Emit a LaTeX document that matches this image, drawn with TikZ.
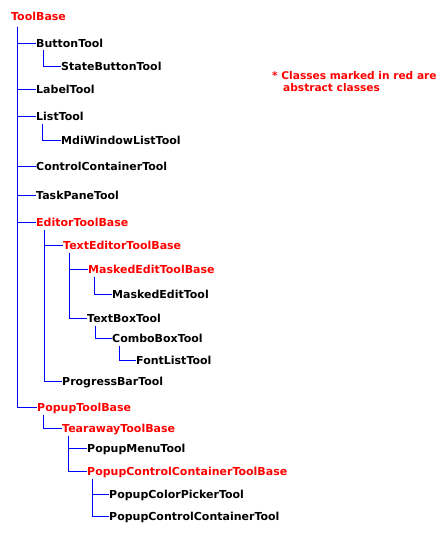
\documentclass[tikz,border=0pt]{standalone}
\usepackage{fontspec}
\setmainfont{DejaVu Sans}
\definecolor{absred}{RGB}{255,0,0}
\definecolor{linkblue}{RGB}{0,0,255}
\tikzset{
  cls/.style={anchor=west, inner sep=0pt, font=\bfseries\fontsize{11}{13}\selectfont, text height=8pt, text depth=0pt, text=black},
  abs/.style={cls, text=absred},
  note/.style={cls, text=absred, font=\bfseries\fontsize{10.6}{12}\selectfont},
  conn/.style={draw=linkblue, line width=1pt}
}
\begin{document}
\begin{tikzpicture}[x=1pt,y=-1pt]
\useasboundingbox[fill=white] (0,0) rectangle (443,538);
\node[abs] (tb) at (11,16.5) {ToolBase};
\node[cls] (bt) at (36,43.5) {ButtonTool};
\node[cls] (sbt) at (61,66.5) {StateButtonTool};
\node[cls] (lt) at (36,89.5) {LabelTool};
\node[cls] (lst) at (36,116.5) {ListTool};
\node[cls] (mdi) at (61,140.5) {MdiWindowListTool};
\node[cls] (cct) at (36,166.5) {ControlContainerTool};
\node[cls] (tpt) at (36,195.5) {TaskPaneTool};
\node[abs] (etb) at (36,222.5) {EditorToolBase};
\node[abs] (tetb) at (63,245.5) {TextEditorToolBase};
\node[abs] (metb) at (88,269.5) {MaskedEditToolBase};
\node[cls] (met) at (112,294.5) {MaskedEditTool};
\node[cls] (tbt) at (87,318.5) {TextBoxTool};
\node[cls] (cbt) at (112,338.5) {ComboBoxTool};
\node[cls] (flt) at (136,360.5) {FontListTool};
\node[cls] (pbt) at (62,381.5) {ProgressBarTool};
\node[abs] (ptb) at (37,407.5) {PopupToolBase};
\node[abs] (ttb) at (62,428.5) {TearawayToolBase};
\node[cls] (pmt) at (87,448.5) {PopupMenuTool};
\node[abs] (pcctb) at (87,471.5) {PopupControlContainerToolBase};
\node[cls] (pcpt) at (109,494.5) {PopupColorPickerTool};
\node[cls] (pcct) at (109,516.5) {PopupControlContainerTool};
\node[note] (n1) at (272,75) {* Classes marked in red are};
\node[note] (n2) at (283,87) {abstract classes};
% connectors
\foreach \c in {bt,lt,lst,cct,tpt,etb,ptb}
  \draw[conn] ([xshift=6.5pt,yshift=-6pt]tb.south west) |- (\c.west);
\draw[conn] ([xshift=7.5pt,yshift=-2pt]bt.south west) |- (sbt.west);
\draw[conn] ([xshift=6.5pt,yshift=-3pt]lst.south west) |- (mdi.west);
\foreach \c in {tetb,pbt}
  \draw[conn] ([xshift=8.5pt,yshift=-3pt]etb.south west) |- (\c.west);
\foreach \c in {metb,tbt}
  \draw[conn] ([xshift=6.5pt,yshift=-3pt]tetb.south west) |- (\c.west);
\draw[conn] ([xshift=6.5pt,yshift=-3pt]metb.south west) |- (met.west);
\draw[conn] ([xshift=8.5pt,yshift=-3pt]tbt.south west) |- (cbt.west);
\draw[conn] ([xshift=7.5pt,yshift=-3pt]cbt.south west) |- (flt.west);
\draw[conn] ([xshift=6.5pt,yshift=-3pt]ptb.south west) |- (ttb.west);
\foreach \c in {pmt,pcctb}
  \draw[conn] ([xshift=6.5pt,yshift=-3pt]ttb.south west) |- (\c.west);
\foreach \c in {pcpt,pcct}
  \draw[conn] ([xshift=5.5pt,yshift=-3pt]pcctb.south west) |- (\c.west);
\end{tikzpicture}
\end{document}
